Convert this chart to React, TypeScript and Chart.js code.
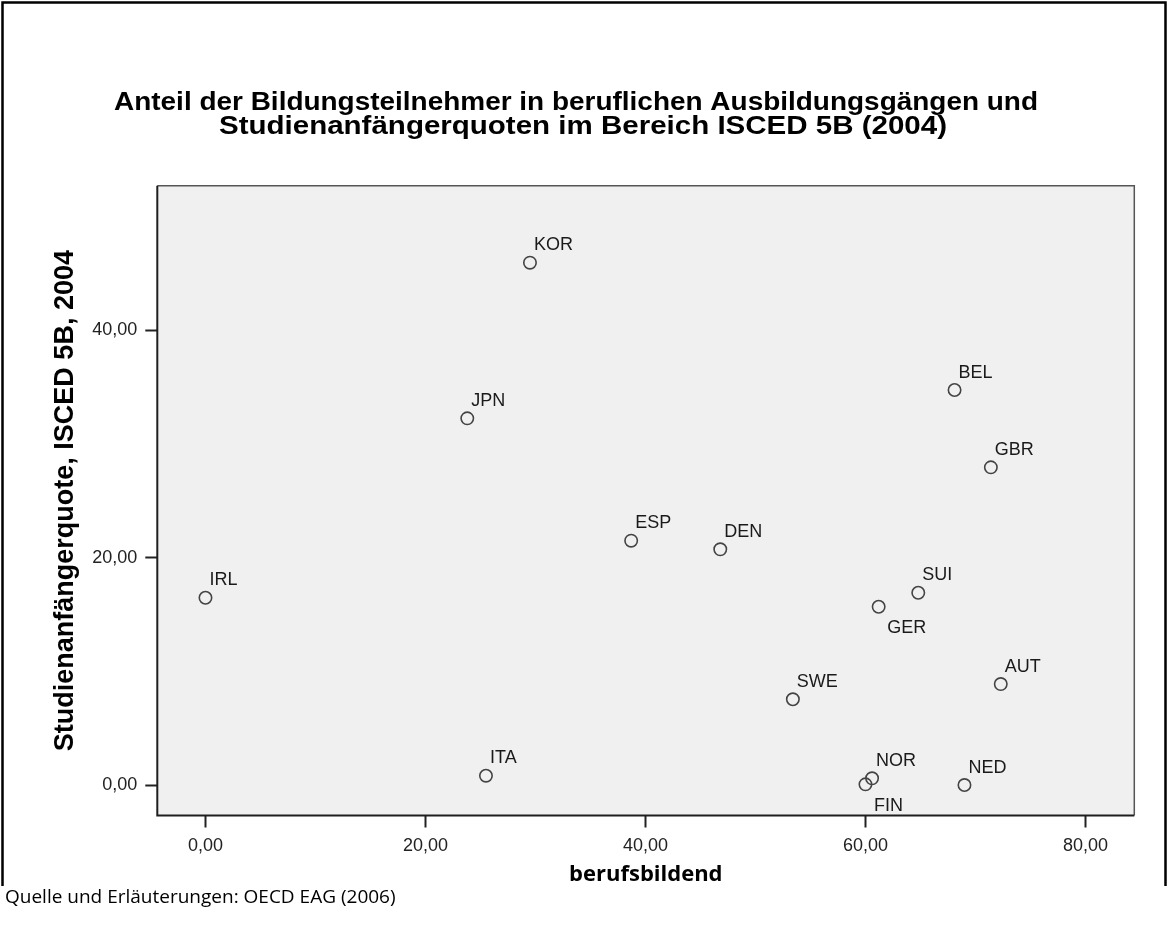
import React, { useEffect, useRef } from "react";
import { Chart, registerables } from "chart.js";

Chart.register(...registerables);

// ---- data ----
const countries = ["IRL", "KOR", "JPN", "ESP", "DEN", "GBR", "BEL", "SUI", "GER", "AUT", "SWE", "ITA", "NOR", "FIN", "NED"];
const vocational = [0.0, 29.5, 23.8, 38.7, 46.8, 71.4, 68.1, 64.8, 61.2, 72.3, 53.4, 25.5, 60.6, 60.0, 69.0];
const entryRate = [16.47, 45.94, 32.25, 21.49, 20.73, 27.94, 34.74, 16.91, 15.68, 8.88, 7.54, 0.82, 0.59, 0.06, 0.0];
const labelsBelow = ["GER", "FIN"];
const xTicks = [0, 20, 40, 60, 80];
const yTicks = [0, 20, 40];
const titleLines = [
  "Anteil der Bildungsteilnehmer in beruflichen Ausbildungsgängen und",
  "Studienanfängerquoten im Bereich ISCED 5B (2004)",
];
const xTitle = "berufsbildend";
const yTitle = "Studienanfängerquote, ISCED 5B, 2004";
const footer = "Quelle und Erläuterungen: OECD EAG (2006)";

const ARIAL = '"Liberation Sans", Arial, sans-serif';
const HUMAN = '"Open Sans", "Noto Sans", sans-serif';
const fmt = (v: number) => Number(v).toFixed(2).replace(".", ",");

const decor = {
  id: "decor",
  beforeDraw(chart: any) {
    const { ctx, chartArea: a } = chart;
    ctx.save();
    ctx.fillStyle = "#ffffff";
    ctx.fillRect(0, 0, chart.width, chart.height);
    ctx.fillStyle = "#f0f0f0";
    ctx.fillRect(a.left, a.top, a.right - a.left, a.bottom - a.top);
    ctx.restore();
  },
  afterDraw(chart: any) {
    const { ctx, chartArea: a } = chart;
    const xs = chart.scales.x;
    const ys = chart.scales.y;
    ctx.save();
    // plot frame
    ctx.strokeStyle = "#555";
    ctx.lineWidth = 1.5;
    ctx.beginPath();
    ctx.moveTo(a.left, a.top);
    ctx.lineTo(a.right, a.top);
    ctx.lineTo(a.right, a.bottom);
    ctx.stroke();
    ctx.strokeStyle = "#1e1e1e";
    ctx.lineWidth = 2;
    ctx.beginPath();
    ctx.moveTo(a.left, a.top);
    ctx.lineTo(a.left, a.bottom);
    ctx.lineTo(a.right, a.bottom);
    ctx.stroke();

    // outer border
    ctx.strokeStyle = "#000";
    ctx.lineWidth = 2.5;
    ctx.beginPath();
    ctx.moveTo(2.5, 886);
    ctx.lineTo(2.5, 2.5);
    ctx.lineTo(1165.5, 2.5);
    ctx.lineTo(1165.5, 886);
    ctx.stroke();

    // point labels
    ctx.fillStyle = "#1a1a1a";
    ctx.font = "18px " + ARIAL;
    ctx.textAlign = "left";
    ctx.textBaseline = "alphabetic";
    countries.forEach((c, i) => {
      const px = xs.getPixelForValue(vocational[i]);
      const py = ys.getPixelForValue(entryRate[i]);
      if (labelsBelow.includes(c)) {
        ctx.fillText(c, px + 8.5, py + 26.5);
      } else {
        ctx.fillText(c, px + 4, py - 12.5);
      }
    });

    // title (slightly wide SPSS rendering)
    ctx.fillStyle = "#000";
    ctx.font = "bold 25px " + ARIAL;
    ctx.textAlign = "center";
    const drawWide = (text: string, cx: number, y: number, targetW: number) => {
      const w = ctx.measureText(text).width;
      ctx.save();
      ctx.translate(cx, y);
      ctx.scale(targetW / w, 1);
      ctx.fillText(text, 0, 0);
      ctx.restore();
    };
    drawWide(titleLines[0], 576, 110, 924);
    drawWide(titleLines[1], 583, 134, 728);

    // y title
    ctx.save();
    ctx.translate(73, (a.top + a.bottom) / 2);
    ctx.rotate(-Math.PI / 2);
    ctx.font = "bold 27px " + ARIAL;
    ctx.textAlign = "center";
    ctx.fillText(yTitle, 0, 0);
    ctx.restore();

    // x title
    ctx.font = "bold 22px " + HUMAN;
    ctx.textAlign = "center";
    ctx.fillText(xTitle, (a.left + a.right) / 2, 881);

    // footer
    ctx.font = "19px " + HUMAN;
    ctx.textAlign = "left";
    ctx.fillText(footer, 5, 903);
    ctx.restore();
  },
};

export default function App() {
  const ref = useRef<HTMLCanvasElement | null>(null);
  useEffect(() => {
    document.body.style.margin = "0";
    const canvas = ref.current!;
    const chart = new Chart(canvas, {
      type: "scatter",
      data: {
        datasets: [
          {
            label: "Länder",
            data: countries.map((_, i) => ({ x: vocational[i], y: entryRate[i] })),
            pointRadius: 6.2,
            pointBorderWidth: 1.6,
            pointBorderColor: "#444",
            pointBackgroundColor: "rgba(0,0,0,0)",
            showLine: false,
          },
        ],
      },
      options: {
        animation: false,
        responsive: false,
        devicePixelRatio: 1,
        events: [],
        layout: { padding: { left: 0, top: 185.7, right: 34.7, bottom: 67.5 } },
        plugins: { legend: { display: false }, title: { display: false }, tooltip: { enabled: false } },
        scales: {
          x: {
            type: "linear",
            position: "bottom",
            min: -4.38,
            max: 84.44,
            afterBuildTicks: (s: any) => {
              s.ticks = xTicks.map((v) => ({ value: v }));
            },
            afterFit: (s: any) => {
              s.height = 60;
            },
            ticks: {
              callback: (v: any) => fmt(v),
              font: { size: 18, family: ARIAL },
              color: "#222",
              padding: 8,
              autoSkip: false,
              maxRotation: 0,
            },
            grid: { drawOnChartArea: false, drawTicks: true, tickLength: 12, tickWidth: 2, tickColor: "#222" },
            border: { display: false },
          },
          y: {
            type: "linear",
            position: "left",
            min: -2.68,
            max: 52.71,
            afterBuildTicks: (s: any) => {
              s.ticks = yTicks.map((v) => ({ value: v }));
            },
            afterFit: (s: any) => {
              s.width = 157.3;
            },
            ticks: {
              callback: (v: any) => fmt(v),
              font: { size: 18, family: ARIAL },
              color: "#222",
              padding: 8,
              autoSkip: false,
            },
            grid: { drawOnChartArea: false, drawTicks: true, tickLength: 12, tickWidth: 2, tickColor: "#222" },
            border: { display: false },
          },
        },
      },
      plugins: [decor],
    });
    return () => chart.destroy();
  }, []);
  return <canvas ref={ref} width={1169} height={943} style={{ display: "block" }} />;
}
